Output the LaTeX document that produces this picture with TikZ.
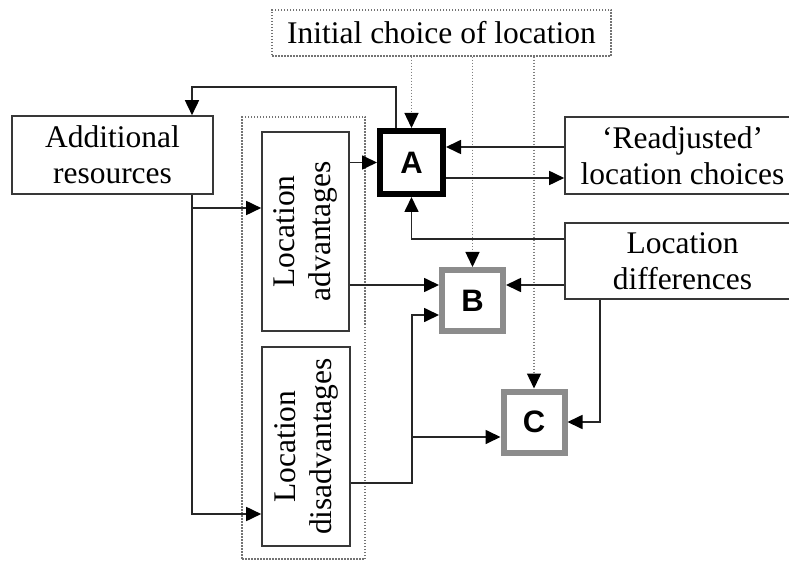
\documentclass[tikz,border=0pt]{standalone}
\usepackage{fontspec}
\setmainfont{Liberation Serif}
\newfontfamily\lettersans{Liberation Sans}
\usetikzlibrary{arrows.meta}

\tikzset{
  txt/.style={font=\fontsize{31.5}{36}\selectfont, align=center},
  box/.style={draw=black!78, line width=1.6pt, fill=white, inner sep=0pt, txt},
  dotbox/.style={draw=black!55, line width=1.3pt, dash pattern=on 1.5pt off 1.5pt, inner sep=0pt},
  letterbox/.style={line width=6pt, fill=white, inner sep=0pt,
    font=\lettersans\bfseries\fontsize{31}{31}\selectfont},
  mainbox/.style={letterbox, draw=black, minimum size=63pt},
  subbox/.style={letterbox, draw=black!45, minimum size=61pt},
  arr/.style={line width=1.7pt, draw=black!85, -{Triangle[length=15pt,width=14pt,color=black]}},
  dotarr/.style={line width=1.4pt, draw=black!50, dash pattern=on 1.5pt off 1.5pt,
    -{Triangle[length=15pt,width=14pt,color=black]}},
}

\begin{document}
\begin{tikzpicture}[x=1pt,y=-1pt]
  \clip (0,0) rectangle (789,561);
  \useasboundingbox (0,0) rectangle (789,561);

  % grouping frame around the two location boxes
  \node[dotbox, minimum width=123pt, minimum height=442pt] (grp) at (303.5,338) {};

  % boxes
  \node[dotbox, txt, minimum width=339pt, minimum height=46pt] (init) at (441.5,33)
    {Initial choice of location};
  \node[box, minimum width=201pt, minimum height=78pt] (addres) at (112.5,155)
    {Additional\\resources};
  \node[box, minimum width=87pt, minimum height=199pt] (adv) at (305.5,231.5)
    {\rotatebox{90}{\begin{tabular}{@{}c@{}}Location\\advantages\end{tabular}}};
  \node[box, minimum width=88pt, minimum height=199pt] (dis) at (306,446.5)
    {\rotatebox{90}{\begin{tabular}{@{}c@{}}Location\\disadvantages\end{tabular}}};
  \node[box, minimum width=235pt, minimum height=77pt] (readj) at (682.5,155.5)
    {`Readjusted'\\location choices};
  \node[box, minimum width=235pt, minimum height=76pt] (diff) at (682.5,261)
    {Location\\differences};

  \node[mainbox] (A) at (411.5,162.5) {A};
  \node[subbox] (B) at (472.5,300.5) {B};
  \node[subbox] (C) at (534,422) {C};

  % the initial choice feeds A, B and C
  \draw[dotarr] (A.north |- init.south) -- (A.north);
  \draw[dotarr] (B.north |- init.south) -- (B.north);
  \draw[dotarr] (C.north |- init.south) -- (C.north);

  % feedback from A to the additional resources
  \draw[arr] ([xshift=-15.5pt]A.north) -- ++(0,-41) -| ([xshift=79.5pt]addres.north);

  % additional resources to the two location boxes
  \draw[arr] ([xshift=79.5pt]addres.south) |- ([yshift=23.5pt]adv.west);
  \draw[arr] ([xshift=79.5pt]addres.south) |- ([yshift=-67.5pt]dis.west);

  % advantages to A and B
  \draw[arr] (adv.east |- A.west) -- (A.west);
  \coordinate (bin1) at ([yshift=15.5pt]B.west);
  \draw[arr] (adv.east |- bin1) -- (bin1);

  % disadvantages to B and C
  \coordinate (bin2) at ([yshift=-14.5pt]B.west);
  \coordinate (cin1) at ([yshift=-15pt]C.west);
  \draw[arr] ([yshift=-36.5pt]dis.east) -| ([xshift=-27pt]bin2) -- (bin2);
  \draw[arr] ([xshift=-27pt]bin2 |- cin1) -- (cin1);

  % A and the readjusted location choices
  \coordinate (rin) at ([yshift=8.5pt]readj.west);
  \coordinate (rout) at ([yshift=-22.5pt]readj.west);
  \draw[arr] (rin) -- (A.east |- rin);
  \draw[arr] (A.east |- rout) -- (rout);

  % location differences to A, B and C
  \draw[arr] ([yshift=22pt]diff.west) -| (A.south);
  \coordinate (dout) at ([yshift=-24pt]diff.west);
  \draw[arr] (dout) -- (B.east |- dout);
  \draw[arr] ([xshift=-82.5pt]diff.south) |- (C.east);
\end{tikzpicture}
\end{document}
